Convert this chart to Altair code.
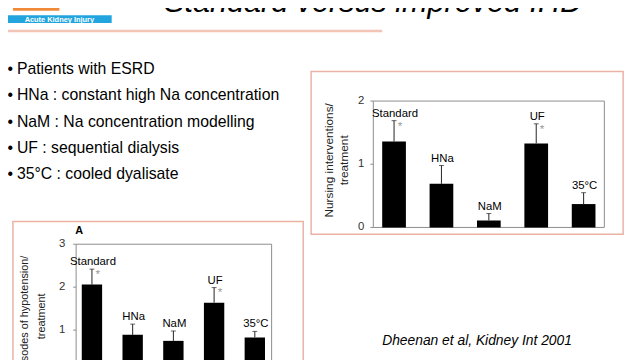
import altair as alt
import pandas as pd

# ---------------- data ----------------
categories = ["Standard", "HNa", "NaM", "UF", "35°C"]
nursing_mean = [1.36, 0.69, 0.11, 1.33, 0.37]
nursing_high = [1.69, 0.98, 0.22, 1.64, 0.55]
hypo_mean = [2.06, 0.89, 0.75, 1.64, 0.83]
hypo_high = [2.42, 1.14, 0.98, 1.99, 0.97]
significance = ["*", "", "", "*", ""]
nursing_ticks = [0, 1, 2]
hypo_ticks = [0, 1, 2, 3]

slide_title = "Standard versus improved IHD"
bullets = [
    "Patients with ESRD",
    "HNa : constant high Na concentration",
    "NaM : Na concentration modelling",
    "UF : sequential dialysis",
    "35°C : cooled dyalisate",
]
citation = "Dheenan et al, Kidney Int 2001"
nursing_title = ["Nursing interventions/", "treatment"]
hypo_title = ["Episodes of hypotension/", "treatment"]
panel_letter = "A"
logo_text = "Acute Kidney Injury"
logo_city = "Lyon, France"

FONT = "Liberation Sans"
O = 8  # page margin offset


def P(v):
    return v - O


one = pd.DataFrame({"k": [0]})


def rect(x1, y1, x2, y2, **kw):
    return alt.Chart(one).mark_rect(**kw).encode(
        x=alt.value(P(x1)), x2=alt.value(P(x2)), y=alt.value(P(y1)), y2=alt.value(P(y2))
    )


def txt(s, x, y, **kw):
    return alt.Chart(pd.DataFrame({"t": [s]})).mark_text(font=FONT, **kw).encode(
        text="t:N", x=alt.value(P(x)), y=alt.value(P(y))
    )


# ---------------- slide decoration ----------------
decor = [
    rect(8, 8, 648, 368, fill="white"),
    alt.Chart(one).mark_rule(color="#f2c4b6", strokeWidth=2.5).encode(
        x=alt.value(P(8)), x2=alt.value(P(387)), y=alt.value(P(29))
    ),
    rect(13, 0, 60, 8.5, fill="#f0893a"),
    txt(logo_city, 88, 3, color="#666", fontSize=5, align="center", baseline="middle"),
    rect(8, 13, 113, 21, fill="#22a4de"),
    txt(logo_text, 60, 17.5, color="white", fontSize=7.5, fontWeight="bold",
        align="center", baseline="middle"),
    txt(slide_title, 166, 10, fontSize=31, fontStyle="italic", align="left",
        baseline="alphabetic", color="black"),
    txt(citation, 387, 347, fontSize=14, fontStyle="italic", align="left",
        baseline="alphabetic", color="black"),
]
for i, b in enumerate(bullets):
    y = 72.7 + 26.6 * i
    decor.append(txt("\u2022", 7.5, y, fontSize=16, align="left",
                     baseline="alphabetic", color="black"))
    decor.append(txt(b, 17, y, fontSize=16, align="left",
                     baseline="alphabetic", color="black"))

# frames
decor += [
    rect(315, 70, 631, 235, fill="white", stroke="#ebb2a4", strokeWidth=1.5),
    rect(13, 222, 307, 380, fill="white", stroke="#ebb2a4", strokeWidth=1.5),
]


def panel(means, highs, ticks, xrange, yrange, ydomain, frame, tick_x, title_lines,
          title_x, title_y, title_size, label_size):
    df = pd.DataFrame({"cat": categories, "mean": means, "hi": highs, "star": significance})
    xs = alt.Scale(domain=categories, range=xrange, paddingInner=0.5, paddingOuter=0.25)
    ys = alt.Scale(domain=ydomain, range=yrange, nice=False, zero=True)
    X = alt.X("cat:N", scale=xs, axis=None, sort=categories)
    base = alt.Chart(df)
    layers = [
        rect(*frame, fill="white", stroke="#8c8c8c", strokeWidth=1),
        base.mark_bar(color="black").encode(x=X, y=alt.Y("mean:Q", scale=ys, axis=None)),
        base.mark_rule(color="#222", strokeWidth=1).encode(
            x=X, y=alt.Y("mean:Q", scale=ys, axis=None), y2="hi:Q"),
        base.mark_tick(orient="horizontal", size=5, thickness=1, color="#222").encode(
            x=X, y=alt.Y("hi:Q", scale=ys, axis=None)),
        base.mark_text(font=FONT, color="#9a9a9a", fontSize=12, dx=6, dy=5).encode(
            x=X, y=alt.Y("hi:Q", scale=ys, axis=None), text="star:N"),
        base.mark_text(font=FONT, color="black", fontSize=label_size, baseline="alphabetic",
                       dy=-4, dx=1).encode(
            x=X, y=alt.Y("hi:Q", scale=ys, axis=None), text="cat:N"),
    ]
    tdf = pd.DataFrame({"v": ticks})
    layers += [
        alt.Chart(tdf).mark_text(font=FONT, align="right", baseline="middle",
                                 fontSize=11.5, color="#333").encode(
            x=alt.value(P(tick_x)), y=alt.Y("v:Q", scale=ys, axis=None), text="v:Q"),
        alt.Chart(tdf).mark_rule(color="#8c8c8c", strokeWidth=1).encode(
            x=alt.value(P(frame[0] - 3)), x2=alt.value(P(frame[0])),
            y=alt.Y("v:Q", scale=ys, axis=None)),
    ]
    for j, line in enumerate(title_lines):
        layers.append(txt(line, title_x[j], title_y, fontSize=title_size, angle=270,
                          align="center", baseline="middle", color="#222"))
    return alt.layer(*layers)


top = panel(nursing_mean, nursing_high, nursing_ticks,
            xrange=[P(375), P(615)], yrange=[P(228), P(100)], ydomain=[0, 2],
            frame=(378, 100, 612, 228), tick_x=369, title_lines=nursing_title,
            title_x=[333, 348], title_y=160, title_size=12, label_size=11.5)

bottom = panel(hypo_mean, hypo_high, hypo_ticks,
               xrange=[P(72.4), P(278.6)], yrange=[P(375.5), P(245)], ydomain=[0, 3],
               frame=(77, 245, 275, 375.5), tick_x=66, title_lines=hypo_title,
               title_x=[25, 42], title_y=318, title_size=11, label_size=11.5)

letter = txt(panel_letter, 80, 232, fontSize=11, fontWeight="bold", align="center",
             baseline="middle", color="black")

chart = alt.layer(*decor, top, bottom, letter).resolve_scale(
    x="independent", y="independent"
).properties(
    width=632, height=352, padding=0, autosize="none", background="white"
).configure_view(stroke=None)

chart.save("out.html", embed_options={"renderer": "svg", "actions": False})
